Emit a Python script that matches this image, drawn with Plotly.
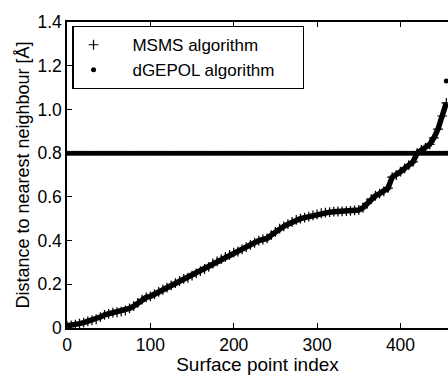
import plotly.graph_objects as go

# Surface point indices (every 5th point)
msms_idx = list(range(0, 460, 5))
msms_dist = [
    0.010, 0.012, 0.015, 0.020, 0.025, 0.030, 0.035, 0.040, 0.050, 0.060,
    0.065, 0.070, 0.072, 0.075, 0.080, 0.090, 0.100, 0.115, 0.130, 0.140,
    0.145, 0.155, 0.165, 0.175, 0.185, 0.195, 0.205, 0.215, 0.225, 0.230,
    0.240, 0.250, 0.260, 0.270, 0.280, 0.295, 0.305, 0.315, 0.325, 0.335,
    0.345, 0.350, 0.360, 0.370, 0.380, 0.390, 0.400, 0.405, 0.410, 0.425,
    0.440, 0.455, 0.465, 0.475, 0.485, 0.495, 0.500, 0.505, 0.510, 0.515,
    0.520, 0.525, 0.528, 0.530, 0.532, 0.533, 0.534, 0.535, 0.536, 0.538,
    0.540, 0.550, 0.570, 0.590, 0.605, 0.615, 0.625, 0.640, 0.690, 0.700,
    0.715, 0.730, 0.745, 0.760, 0.800, 0.815, 0.825, 0.840, 0.870, 0.910,
    0.970, 1.030,
]

dgepol_idx = list(range(0, 458, 3)) + [455]
dgepol_dist = [0.8] * len(range(0, 458, 3)) + [1.13]

x_tickvals = [0, 100, 200, 300, 400]
x_ticktext = ["0", "100", "200", "300", "400"]
y_tickvals = [0, 0.2, 0.4, 0.6, 0.8, 1.0, 1.2, 1.4]
y_ticktext = ["0", "0.2", "0.4", "0.6", "0.8", "1.0", "1.2", "1.4"]

font = "Liberation Sans"
NB = "\u00a0"

fig = go.Figure()
# dense band underneath the MSMS markers (same data)
fig.add_trace(go.Scatter(
    x=msms_idx, y=msms_dist, mode="lines", showlegend=False,
    line=dict(color="black", width=5.5), hoverinfo="skip",
))
fig.add_trace(go.Scatter(
    x=msms_idx, y=msms_dist, mode="markers",
    name=NB * 4 + "MSMS algorithm",
    marker=dict(symbol="cross-thin", size=7, color="black",
                line=dict(color="black", width=1.2)),
))
fig.add_trace(go.Scatter(
    x=dgepol_idx, y=dgepol_dist, mode="markers",
    name=NB * 4 + "dGEPOL algorithm" + NB * 5,
    marker=dict(symbol="circle", size=5, color="black", line=dict(width=0)),
))

fig.update_layout(
    width=448, height=375,
    margin=dict(l=67, r=0, t=22, b=47),
    paper_bgcolor="white", plot_bgcolor="white",
    font=dict(family=font, size=17.5, color="black"),
    showlegend=True,
    legend=dict(x=0.014, y=0.987, xanchor="left", yanchor="top",
                bgcolor="white", bordercolor="black", borderwidth=1.2,
                font=dict(size=17), itemwidth=30, tracegroupgap=0),
    xaxis=dict(range=[0, 457], tickvals=x_tickvals, ticktext=x_ticktext,
               ticks="inside", ticklen=5, tickcolor="black",
               showline=True, linecolor="black", linewidth=1.5,
               mirror="ticks", showgrid=False, zeroline=False,
               title=dict(text="Surface point index", standoff=2,
                          font=dict(size=19)),
               tickfont=dict(size=17.5)),
    yaxis=dict(range=[0, 1.4], tickvals=y_tickvals, ticktext=y_ticktext,
               ticks="inside", ticklen=5, tickcolor="black",
               showline=True, linecolor="black", linewidth=1.5,
               showgrid=False, zeroline=False,
               title=dict(text="Distance to nearest neighbour [Å]", standoff=3,
                          font=dict(size=18)),
               tickfont=dict(size=17.5)),
)

fig.write_html("out.html")
